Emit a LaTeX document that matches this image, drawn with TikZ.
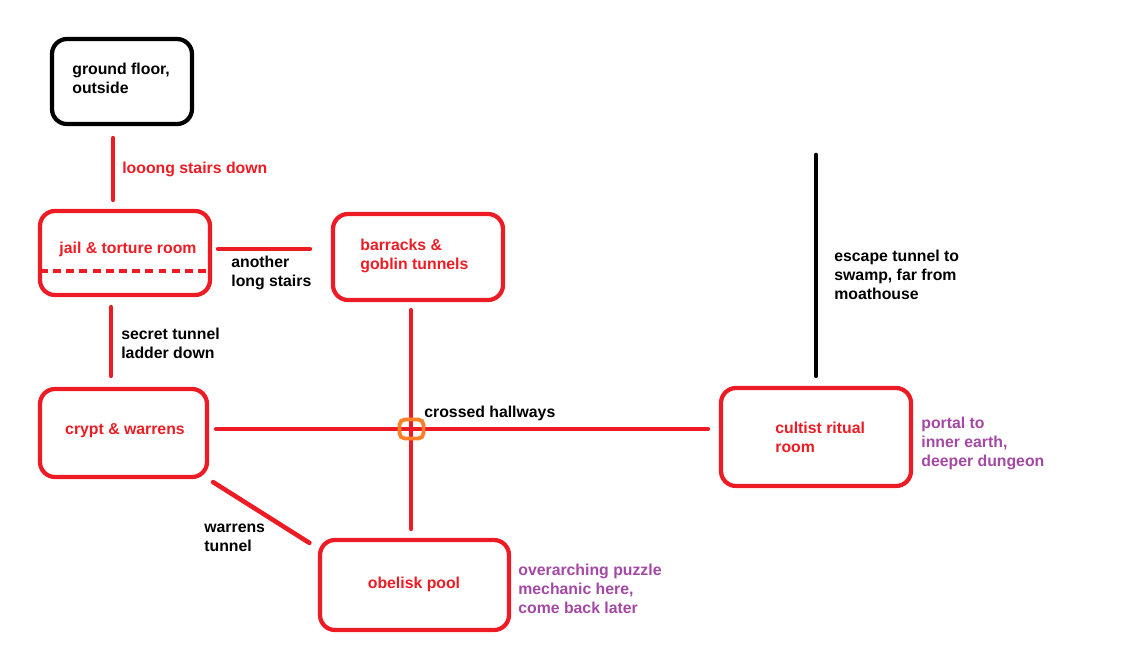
\documentclass[tikz,border=0pt]{standalone}
\usepackage{fontspec}
\setmainfont{Liberation Sans}
\usepackage{tikz}
\usetikzlibrary{calc}
\usepackage{xcolor}
\definecolor{paintred}{HTML}{ED1C24}
\definecolor{paintpurple}{HTML}{A349A4}
\definecolor{paintorange}{HTML}{FF7F27}

\begin{document}
\begin{tikzpicture}[x=0.02cm,y=-0.02cm,line cap=round,
  font=\fontsize{9}{10.8}\selectfont\bfseries,
  room/.style={draw=paintred,line width=2.4pt,rounded corners=8.5pt,inner sep=0pt},
  tunnel/.style={draw=paintred,line width=2.6pt},
  txt/.style={inner sep=0pt,align=left,anchor=west,yshift=-1.4pt}]
\useasboundingbox (0,0) rectangle (1128,656);
% rooms
\node[room,draw=black,minimum width=2.8cm,minimum height=1.7cm] (ground) at (122,81.5) {};
\node[room,minimum width=3.4cm,minimum height=1.68cm] (jail) at (125,253) {};
\node[room,minimum width=3.4cm,minimum height=1.72cm] (barracks) at (418,257) {};
\node[room,minimum width=3.34cm,minimum height=1.76cm] (crypt) at (123.5,433) {};
\node[room,minimum width=3.8cm,minimum height=1.96cm] (cultist) at (816,437) {};
\node[room,minimum width=3.78cm,minimum height=1.8cm] (obelisk) at (414.5,585) {};
\draw[paintred,line width=2.4pt,dash pattern=on 4.5pt off 3pt,line cap=butt]
  ($(jail.west)+(2,18)$) -- ($(jail.east)+(-2,18)$);
% room names
\node[txt] (groundtxt) at (72,76) {ground floor,\\outside};
\node[txt,anchor=center,text=paintred] (jailtxt) at (128,247) {jail \& torture room};
\node[txt,text=paintred] (barrackstxt) at (360,253.5) {barracks \&\\goblin tunnels};
\node[txt,anchor=center,text=paintred] (crypttxt) at (125,428) {crypt \& warrens};
\node[txt,text=paintred] (cultisttxt) at (775,434.5) {cultist ritual\\room};
\node[txt,anchor=center,text=paintred] (obelisktxt) at (414,582) {obelisk pool};
% tunnels
\draw[tunnel] ($(ground.south)+(-9,12)$) -- ($(jail.north)+(-12,-9)$);
\draw[tunnel] ($(jail.east)+(6,-4)$) -- ($(barracks.west)+(-21,-8)$);
\draw[tunnel] ($(jail.south)+(-14,10)$) -- ($(crypt.north)+(-12.5,-11)$);
\draw[tunnel] ($(crypt.east)+(7,-4)$) -- ($(cultist.west)+(-11,-8)$);
\draw[tunnel] ($(barracks.south)+(-7,8)$) -- ($(obelisk.north)+(-3.5,-9)$);
\draw[tunnel] ($(crypt.south east)+(4,3)$) -- ($(obelisk.north west)+(-8.5,5)$);
\coordinate (swamp) at (816,155);
\draw[tunnel,draw=black] (swamp) -- ($(cultist.north)+(0,-10)$);
\node[draw=paintorange,line width=2.2pt,rounded corners=3pt,minimum width=0.48cm,minimum height=0.38cm,inner sep=0pt] (crossing) at (411.5,429) {};
% tunnel labels
\node[txt,text=paintred] (stairstxt) at (122,167) {looong stairs down};
\node[txt] (longtxt) at (231,270) {another\\long stairs};
\node[txt] (secrettxt) at (121,341) {secret tunnel\\ladder down};
\node[txt] (crossingtxt) at (424,411) {crossed hallways};
\node[txt] (warrenstxt) at (204,535.5) {warrens\\tunnel};
\node[txt] (escapetxt) at (834,272) {escape tunnel to\\swamp, far from\\moathouse};
\node[txt,text=paintpurple] (portaltxt) at (921,441) {portal to\\inner earth,\\deeper dungeon};
\node[txt,text=paintpurple] (puzzletxt) at (518,586) {overarching puzzle\\mechanic here,\\come back later};
\end{tikzpicture}
\end{document}
